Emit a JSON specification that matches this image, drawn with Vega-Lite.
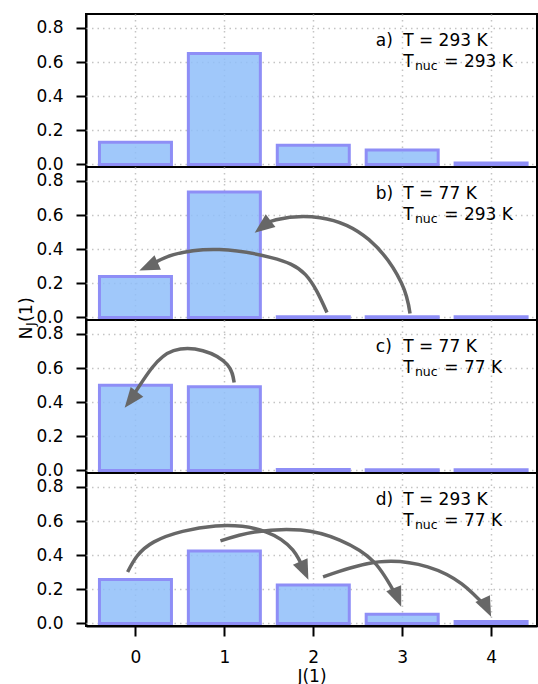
{
  "$schema": "https://vega.github.io/schema/vega-lite/v6.json",
  "padding": {"left": 16, "top": 13, "right": 0, "bottom": 0},
  "config": {
    "font": "DejaVu Sans",
    "view": {"stroke": "#000000", "strokeWidth": 2},
    "axis": {
      "labelFont": "DejaVu Sans", "labelFontSize": 17, "labelColor": "#000000", "labelOverlap": false,
      "titleFont": "DejaVu Sans", "titleFontSize": 17, "titleFontWeight": "normal", "titleColor": "#000000",
      "domainColor": "#000000", "domainWidth": 2,
      "tickColor": "#000000", "tickWidth": 2, "tickSize": 10,
      "labelPadding": 13,
      "gridColor": "#c4c4c4", "gridDash": [1.5, 4], "gridWidth": 1.5
    }
  },
  "data": {"values": [
    {"panel": "a", "kind": "bar", "J": 0, "N": 0.13},
    {"panel": "a", "kind": "bar", "J": 1, "N": 0.65},
    {"panel": "a", "kind": "bar", "J": 2, "N": 0.112},
    {"panel": "a", "kind": "bar", "J": 3, "N": 0.085},
    {"panel": "a", "kind": "bar", "J": 4, "N": 0.008},
    {"panel": "b", "kind": "bar", "J": 0, "N": 0.24},
    {"panel": "b", "kind": "bar", "J": 1, "N": 0.735},
    {"panel": "b", "kind": "bar", "J": 2, "N": 0.004},
    {"panel": "b", "kind": "bar", "J": 3, "N": 0.004},
    {"panel": "b", "kind": "bar", "J": 4, "N": 0.004},
    {"panel": "c", "kind": "bar", "J": 0, "N": 0.5},
    {"panel": "c", "kind": "bar", "J": 1, "N": 0.49},
    {"panel": "c", "kind": "bar", "J": 2, "N": 0.005},
    {"panel": "c", "kind": "bar", "J": 3, "N": 0.004},
    {"panel": "c", "kind": "bar", "J": 4, "N": 0.004},
    {"panel": "d", "kind": "bar", "J": 0, "N": 0.258},
    {"panel": "d", "kind": "bar", "J": 1, "N": 0.424},
    {"panel": "d", "kind": "bar", "J": 2, "N": 0.225},
    {"panel": "d", "kind": "bar", "J": 3, "N": 0.054},
    {"panel": "d", "kind": "bar", "J": 4, "N": 0.012},

    {"panel": "a", "kind": "label", "tag": "a)", "t1": "T = 293 K", "t2": "= 293 K"},
    {"panel": "b", "kind": "label", "tag": "b)", "t1": "T = 77 K", "t2": "= 293 K"},
    {"panel": "c", "kind": "label", "tag": "c)", "t1": "T = 77 K", "t2": "= 77 K"},
    {"panel": "d", "kind": "label", "tag": "d)", "t1": "T = 293 K", "t2": "= 77 K"},

    {"panel": "b", "kind": "arrow", "id": "b1", "k": 0, "J": 3.088, "N": 0.023},
    {"panel": "b", "kind": "arrow", "id": "b1", "k": 1, "J": 2.989, "N": 0.205},
    {"panel": "b", "kind": "arrow", "id": "b1", "k": 2, "J": 2.626, "N": 0.456},
    {"panel": "b", "kind": "arrow", "id": "b1", "k": 3, "J": 2.077, "N": 0.585},
    {"panel": "b", "kind": "arrow", "id": "b1", "k": 4, "J": 1.582, "N": 0.573},
    {"panel": "b", "kind": "arrow", "id": "b1", "k": 5, "J": 1.429, "N": 0.532},
    {"panel": "b", "kind": "arrow", "id": "b2", "k": 0, "J": 2.154, "N": 0.029},
    {"panel": "b", "kind": "arrow", "id": "b2", "k": 1, "J": 1.912, "N": 0.251},
    {"panel": "b", "kind": "arrow", "id": "b2", "k": 2, "J": 1.527, "N": 0.351},
    {"panel": "b", "kind": "arrow", "id": "b2", "k": 3, "J": 0.945, "N": 0.398},
    {"panel": "b", "kind": "arrow", "id": "b2", "k": 4, "J": 0.429, "N": 0.368},
    {"panel": "b", "kind": "arrow", "id": "b2", "k": 5, "J": 0.143, "N": 0.298},
    {"panel": "c", "kind": "arrow", "id": "c1", "k": 0, "J": 1.11, "N": 0.515},
    {"panel": "c", "kind": "arrow", "id": "c1", "k": 1, "J": 1.033, "N": 0.62},
    {"panel": "c", "kind": "arrow", "id": "c1", "k": 2, "J": 0.758, "N": 0.702},
    {"panel": "c", "kind": "arrow", "id": "c1", "k": 3, "J": 0.429, "N": 0.702},
    {"panel": "c", "kind": "arrow", "id": "c1", "k": 4, "J": 0.187, "N": 0.602},
    {"panel": "c", "kind": "arrow", "id": "c1", "k": 5, "J": -0.055, "N": 0.415},
    {"panel": "d", "kind": "arrow", "id": "d1", "k": 0, "J": -0.088, "N": 0.302},
    {"panel": "d", "kind": "arrow", "id": "d1", "k": 1, "J": 0.209, "N": 0.478},
    {"panel": "d", "kind": "arrow", "id": "d1", "k": 2, "J": 0.901, "N": 0.571},
    {"panel": "d", "kind": "arrow", "id": "d1", "k": 3, "J": 1.473, "N": 0.536},
    {"panel": "d", "kind": "arrow", "id": "d1", "k": 4, "J": 1.769, "N": 0.431},
    {"panel": "d", "kind": "arrow", "id": "d1", "k": 5, "J": 1.901, "N": 0.308},
    {"panel": "d", "kind": "arrow", "id": "d2", "k": 0, "J": 0.956, "N": 0.484},
    {"panel": "d", "kind": "arrow", "id": "d2", "k": 1, "J": 1.341, "N": 0.536},
    {"panel": "d", "kind": "arrow", "id": "d2", "k": 2, "J": 1.857, "N": 0.548},
    {"panel": "d", "kind": "arrow", "id": "d2", "k": 3, "J": 2.297, "N": 0.489},
    {"panel": "d", "kind": "arrow", "id": "d2", "k": 4, "J": 2.681, "N": 0.361},
    {"panel": "d", "kind": "arrow", "id": "d2", "k": 5, "J": 2.945, "N": 0.15},
    {"panel": "d", "kind": "arrow", "id": "d3", "k": 0, "J": 2.11, "N": 0.273},
    {"panel": "d", "kind": "arrow", "id": "d3", "k": 1, "J": 2.736, "N": 0.361},
    {"panel": "d", "kind": "arrow", "id": "d3", "k": 2, "J": 3.286, "N": 0.332},
    {"panel": "d", "kind": "arrow", "id": "d3", "k": 3, "J": 3.67, "N": 0.232},
    {"panel": "d", "kind": "arrow", "id": "d3", "k": 4, "J": 3.956, "N": 0.091},

    {"panel": "b", "kind": "head", "J": 1.341, "N": 0.497, "dir": 232.6},
    {"panel": "b", "kind": "head", "J": 0.044, "N": 0.275, "dir": 246.3},
    {"panel": "c", "kind": "head", "J": -0.121, "N": 0.368, "dir": 218},
    {"panel": "d", "kind": "head", "J": 1.945, "N": 0.256, "dir": 156},
    {"panel": "d", "kind": "head", "J": 2.989, "N": 0.098, "dir": 158},
    {"panel": "d", "kind": "head", "J": 4.0, "N": 0.039, "dir": 155}
  ]},
  "spacing": 0,
  "bounds": "flush",
  "facet": {"row": {"field": "panel", "type": "nominal", "header": {"title": null, "labels": false, "labelPadding": 0, "titlePadding": 0}}},
  "spec": {
    "width": 451,
    "height": 153,
    "layer": [
      {
        "transform": [{"filter": "datum.kind === 'bar'"}],
        "mark": {"type": "bar", "orient": "vertical", "size": 72, "fill": "#8fbef9", "fillOpacity": 0.85, "stroke": "#8e8ef6", "strokeWidth": 3},
        "encoding": {
          "x": {"field": "J", "type": "quantitative",
                "scale": {"domain": [-0.5, 4.46], "nice": false, "zero": false},
                "axis": {"values": [0, 1, 2, 3, 4], "format": "d", "title": "J(1)", "titlePadding": 3, "labelOverlap": false}},
          "y": {"field": "N", "type": "quantitative",
                "scale": {"domain": [-0.015, 0.882], "nice": false, "zero": false},
                "axis": {"values": [0, 0.2, 0.4, 0.6, 0.8], "format": ".1f", "title": null, "labelOverlap": false}},
          "y2": {"datum": 0}
        }
      },
      {
        "transform": [{"filter": "datum.kind === 'arrow'"}],
        "mark": {"type": "line", "interpolate": "natural", "stroke": "#676767", "strokeWidth": 3.5, "strokeCap": "butt"},
        "encoding": {
          "x": {"field": "J", "type": "quantitative", "scale": {"domain": [-0.5, 4.46], "nice": false, "zero": false},
                "axis": {"values": [0, 1, 2, 3, 4], "format": "d", "title": "J(1)", "titlePadding": 3, "labelOverlap": false}},
          "y": {"field": "N", "type": "quantitative", "scale": {"domain": [-0.015, 0.882], "nice": false, "zero": false},
                "axis": {"values": [0, 0.2, 0.4, 0.6, 0.8], "format": ".1f", "title": null, "labelOverlap": false}},
          "detail": {"field": "id"},
          "order": {"field": "k", "type": "quantitative"}
        }
      },
      {
        "transform": [{"filter": "datum.kind === 'head'"}],
        "mark": {"type": "point", "filled": true, "shape": "M0,0L-0.8,2L0.8,2Z", "size": 400, "color": "#676767", "opacity": 1, "strokeWidth": 0},
        "encoding": {
          "x": {"field": "J", "type": "quantitative", "scale": {"domain": [-0.5, 4.46], "nice": false, "zero": false},
                "axis": {"values": [0, 1, 2, 3, 4], "format": "d", "title": "J(1)", "titlePadding": 3, "labelOverlap": false}},
          "y": {"field": "N", "type": "quantitative", "scale": {"domain": [-0.015, 0.882], "nice": false, "zero": false},
                "axis": {"values": [0, 0.2, 0.4, 0.6, 0.8], "format": ".1f", "title": null, "labelOverlap": false}},
          "angle": {"field": "dir", "type": "quantitative", "scale": null}
        }
      },
      {
        "transform": [{"filter": "datum.kind === 'label'"}],
        "layer": [
          {
            "mark": {"type": "text", "align": "left", "baseline": "alphabetic", "fontSize": 17, "color": "#000000"},
            "encoding": {
              "x": {"datum": 2.703, "type": "quantitative", "scale": {"domain": [-0.5, 4.46], "nice": false, "zero": false},
                    "axis": {"values": [0, 1, 2, 3, 4], "format": "d", "title": "J(1)", "titlePadding": 3, "labelOverlap": false}},
              "y": {"datum": 0.693, "type": "quantitative", "scale": {"domain": [-0.015, 0.882], "nice": false, "zero": false},
                    "axis": {"values": [0, 0.2, 0.4, 0.6, 0.8], "format": ".1f", "title": null, "labelOverlap": false}},
              "text": {"field": "tag"}
            }
          },
          {
            "mark": {"type": "text", "align": "left", "baseline": "alphabetic", "fontSize": 17, "color": "#000000"},
            "encoding": {
              "x": {"datum": 3.011, "type": "quantitative", "scale": {"domain": [-0.5, 4.46], "nice": false, "zero": false},
                    "axis": {"values": [0, 1, 2, 3, 4], "format": "d", "title": "J(1)", "titlePadding": 3, "labelOverlap": false}},
              "y": {"datum": 0.693, "type": "quantitative", "scale": {"domain": [-0.015, 0.882], "nice": false, "zero": false},
                    "axis": {"values": [0, 0.2, 0.4, 0.6, 0.8], "format": ".1f", "title": null, "labelOverlap": false}},
              "text": {"field": "t1"}
            }
          },
          {
            "mark": {"type": "text", "align": "left", "baseline": "alphabetic", "fontSize": 17, "color": "#000000"},
            "encoding": {
              "x": {"datum": 3.011, "type": "quantitative", "scale": {"domain": [-0.5, 4.46], "nice": false, "zero": false},
                    "axis": {"values": [0, 1, 2, 3, 4], "format": "d", "title": "J(1)", "titlePadding": 3, "labelOverlap": false}},
              "y": {"datum": 0.57, "type": "quantitative", "scale": {"domain": [-0.015, 0.882], "nice": false, "zero": false},
                    "axis": {"values": [0, 0.2, 0.4, 0.6, 0.8], "format": ".1f", "title": null, "labelOverlap": false}},
              "text": {"value": "T"}
            }
          },
          {
            "mark": {"type": "text", "align": "left", "baseline": "alphabetic", "fontSize": 12.5, "dy": 2.5, "color": "#000000"},
            "encoding": {
              "x": {"datum": 3.143, "type": "quantitative", "scale": {"domain": [-0.5, 4.46], "nice": false, "zero": false},
                    "axis": {"values": [0, 1, 2, 3, 4], "format": "d", "title": "J(1)", "titlePadding": 3, "labelOverlap": false}},
              "y": {"datum": 0.57, "type": "quantitative", "scale": {"domain": [-0.015, 0.882], "nice": false, "zero": false},
                    "axis": {"values": [0, 0.2, 0.4, 0.6, 0.8], "format": ".1f", "title": null, "labelOverlap": false}},
              "text": {"value": "nuc"}
            }
          },
          {
            "mark": {"type": "text", "align": "left", "baseline": "alphabetic", "fontSize": 17, "color": "#000000"},
            "encoding": {
              "x": {"datum": 3.473, "type": "quantitative", "scale": {"domain": [-0.5, 4.46], "nice": false, "zero": false},
                    "axis": {"values": [0, 1, 2, 3, 4], "format": "d", "title": "J(1)", "titlePadding": 3, "labelOverlap": false}},
              "y": {"datum": 0.57, "type": "quantitative", "scale": {"domain": [-0.015, 0.882], "nice": false, "zero": false},
                    "axis": {"values": [0, 0.2, 0.4, 0.6, 0.8], "format": ".1f", "title": null, "labelOverlap": false}},
              "text": {"field": "t2"}
            }
          }
        ]
      },
      {
        "transform": [{"filter": "datum.kind === 'label' && datum.panel === 'c'"}],
        "layer": [
          {
            "mark": {"type": "text", "angle": 270, "align": "right", "baseline": "middle", "fontSize": 17.5, "dx": -1, "color": "#000000"},
            "encoding": {
              "x": {"datum": -1.22, "type": "quantitative", "scale": {"domain": [-0.5, 4.46], "nice": false, "zero": false},
                    "axis": {"values": [0, 1, 2, 3, 4], "format": "d", "title": "J(1)", "titlePadding": 3, "labelOverlap": false}},
              "y": {"datum": 0.85, "type": "quantitative", "scale": {"domain": [-0.015, 0.882], "nice": false, "zero": false},
                    "axis": {"values": [0, 0.2, 0.4, 0.6, 0.8], "format": ".1f", "title": null, "labelOverlap": false}},
              "text": {"value": "N"}
            }
          },
          {
            "mark": {"type": "text", "angle": 270, "align": "left", "baseline": "middle", "fontSize": 12.5, "dx": -0.5, "dy": 4, "color": "#000000"},
            "encoding": {
              "x": {"datum": -1.22, "type": "quantitative", "scale": {"domain": [-0.5, 4.46], "nice": false, "zero": false},
                    "axis": {"values": [0, 1, 2, 3, 4], "format": "d", "title": "J(1)", "titlePadding": 3, "labelOverlap": false}},
              "y": {"datum": 0.85, "type": "quantitative", "scale": {"domain": [-0.015, 0.882], "nice": false, "zero": false},
                    "axis": {"values": [0, 0.2, 0.4, 0.6, 0.8], "format": ".1f", "title": null, "labelOverlap": false}},
              "text": {"value": "J"}
            }
          },
          {
            "mark": {"type": "text", "angle": 270, "align": "left", "baseline": "middle", "fontSize": 17.5, "dx": 3.5, "color": "#000000"},
            "encoding": {
              "x": {"datum": -1.22, "type": "quantitative", "scale": {"domain": [-0.5, 4.46], "nice": false, "zero": false},
                    "axis": {"values": [0, 1, 2, 3, 4], "format": "d", "title": "J(1)", "titlePadding": 3, "labelOverlap": false}},
              "y": {"datum": 0.85, "type": "quantitative", "scale": {"domain": [-0.015, 0.882], "nice": false, "zero": false},
                    "axis": {"values": [0, 0.2, 0.4, 0.6, 0.8], "format": ".1f", "title": null, "labelOverlap": false}},
              "text": {"value": "(1)"}
            }
          }
        ]
      }
    ]
  }
}
